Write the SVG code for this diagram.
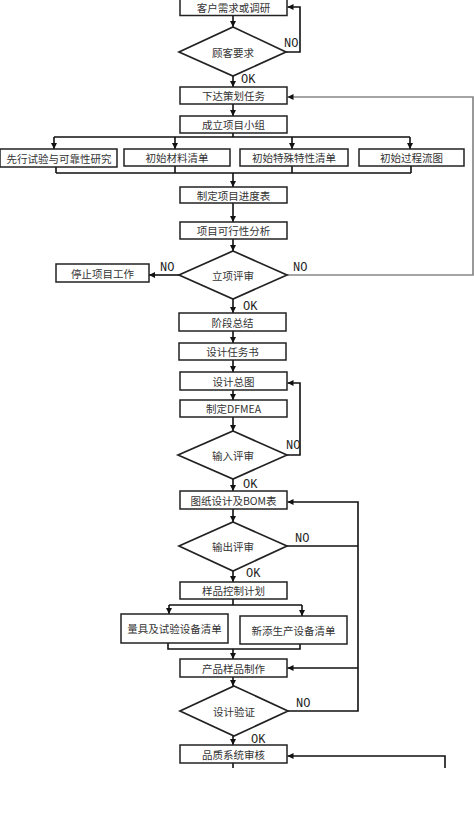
<svg xmlns="http://www.w3.org/2000/svg" width="474" height="815" viewBox="0 0 474 815">
<style>
.box{fill:#fff;stroke:#222;stroke-width:1.5}
.dia{fill:#fff;stroke:#222;stroke-width:1.7}
.t{font-family:"Noto Sans CJK SC","Noto Sans",sans-serif;font-size:10.5px;fill:#333;text-anchor:middle;dominant-baseline:central}
.lb{font-family:"Liberation Mono","DejaVu Sans Mono",monospace;font-size:12px;fill:#222}
.c{fill:none;stroke:#111;stroke-width:1.6}
.g{fill:none;stroke:#888;stroke-width:1.7}
</style>
<defs>
<marker id="ah" viewBox="0 0 10 10" refX="10" refY="5" markerWidth="6" markerHeight="6" markerUnits="userSpaceOnUse" orient="auto">
<path d="M0,0 L10,5 L0,10 Z" fill="#111"/>
</marker>
</defs>
<rect width="474" height="815" fill="#fff"/>
<g id="connectors">
<path class="c" d="M233,15.5 V27" marker-end="url(#ah)"/>
<path class="c" d="M286,52 H300 V7 H287.5" marker-end="url(#ah)"/>
<path class="c" d="M233,76 V87" marker-end="url(#ah)"/>
<path class="c" d="M233,104 V116" marker-end="url(#ah)"/>
<path class="c" d="M233,133 V137 M54,137 H410"/>
<path class="c" d="M54,137 V149" marker-end="url(#ah)"/>
<path class="c" d="M175,137 V149" marker-end="url(#ah)"/>
<path class="c" d="M292,137 V149" marker-end="url(#ah)"/>
<path class="c" d="M410,137 V149" marker-end="url(#ah)"/>
<path class="c" d="M56,167 V173 M175,166 V173 M292,166 V173 M411,166 V173 M56,173 H411"/>
<path class="c" d="M233,173 V187" marker-end="url(#ah)"/>
<path class="c" d="M233,203 V222" marker-end="url(#ah)"/>
<path class="c" d="M233,239 V251" marker-end="url(#ah)"/>
<path class="c" d="M179,275 H149" marker-end="url(#ah)"/>
<path class="g" d="M287,275 H473 V97 H287.5" marker-end="url(#ah)"/>
<path class="c" d="M233,299 V313" marker-end="url(#ah)"/>
<path class="c" d="M233,331 V343" marker-end="url(#ah)"/>
<path class="c" d="M233,360 V372" marker-end="url(#ah)"/>
<path class="c" d="M233,390 V400" marker-end="url(#ah)"/>
<path class="c" d="M233,417 V431" marker-end="url(#ah)"/>
<path class="c" d="M287,455 H300 V383 H287.5" marker-end="url(#ah)"/>
<path class="c" d="M233,479 V491" marker-end="url(#ah)"/>
<path class="c" d="M233,509 V522" marker-end="url(#ah)"/>
<path class="c" d="M287,546 H358"/>
<path class="c" d="M233,571 V582" marker-end="url(#ah)"/>
<path class="c" d="M233,599 V605 M169,605 H302"/>
<path class="c" d="M169,605 V614" marker-end="url(#ah)"/>
<path class="c" d="M302,605 V616" marker-end="url(#ah)"/>
<path class="c" d="M168,643 V649 H300 V644"/>
<path class="c" d="M233,649 V659" marker-end="url(#ah)"/>
<path class="c" d="M233,677 V686" marker-end="url(#ah)"/>
<path class="c" d="M288,711 H358 V502 H287.5" marker-end="url(#ah)"/>
<path class="c" d="M358,668 H287.5" marker-end="url(#ah)"/>
<path class="c" d="M233,736 V745" marker-end="url(#ah)"/>
<path class="c" d="M233,763 V768"/>
<path class="c" d="M445,768 V756 H287.5" marker-end="url(#ah)"/>
</g>
<g id="labels">
<text class="lb" x="284" y="47">NO</text>
<text class="lb" x="241" y="83">OK</text>
<text class="lb" x="160" y="271">NO</text>
<text class="lb" x="293" y="271">NO</text>
<text class="lb" x="243" y="310">OK</text>
<text class="lb" x="286" y="449">NO</text>
<text class="lb" x="243" y="488">OK</text>
<text class="lb" x="295" y="542">NO</text>
<text class="lb" x="246" y="577">OK</text>
<text class="lb" x="296" y="707">NO</text>
<text class="lb" x="251" y="743">OK</text>
</g>
<g id="n1"><rect class="box" x="180" y="-1" width="107" height="16.5"/><text class="t" x="233.5" y="7.5">客户需求或调研</text></g>
<g id="n2"><polygon class="dia" points="233,27 286,52 233,76 179,52"/><text class="t" x="233" y="52">顾客要求</text></g>
<g id="n3"><rect class="box" x="180" y="87" width="107" height="17"/><text class="t" x="233.5" y="95.5">下达策划任务</text></g>
<g id="n4"><rect class="box" x="180" y="116" width="107" height="17"/><text class="t" x="233.5" y="124.5">成立项目小组</text></g>
<g id="n5"><rect class="box" x="0" y="149" width="117" height="18"/><text class="t" x="59" y="158">先行试验与可靠性研究</text></g>
<g id="n6"><rect class="box" x="124" y="149" width="106" height="17"/><text class="t" x="177" y="157.5">初始材料清单</text></g>
<g id="n7"><rect class="box" x="240" y="149" width="108" height="17"/><text class="t" x="294" y="157.5">初始特殊特性清单</text></g>
<g id="n8"><rect class="box" x="359" y="149" width="105" height="17"/><text class="t" x="411.5" y="157.5">初始过程流图</text></g>
<g id="n9"><rect class="box" x="180" y="187" width="107" height="16"/><text class="t" x="233.5" y="195">制定项目进度表</text></g>
<g id="n10"><rect class="box" x="180" y="222" width="107" height="17"/><text class="t" x="233.5" y="230.5">项目可行性分析</text></g>
<g id="n11"><polygon class="dia" points="233,251 287,275 233,299 179,275"/><text class="t" x="233" y="275">立项评审</text></g>
<g id="n12"><rect class="box" x="56" y="264" width="93" height="18"/><text class="t" x="102.5" y="273">停止项目工作</text></g>
<g id="n13"><rect class="box" x="179" y="313" width="107" height="18"/><text class="t" x="232.5" y="322">阶段总结</text></g>
<g id="n14"><rect class="box" x="179" y="343" width="107" height="17"/><text class="t" x="232.5" y="351.5">设计任务书</text></g>
<g id="n15"><rect class="box" x="180" y="372" width="107" height="18"/><text class="t" x="233.5" y="381">设计总图</text></g>
<g id="n16"><rect class="box" x="180" y="400" width="107" height="17"/><text class="t" x="233.5" y="408.5">制定DFMEA</text></g>
<g id="n17"><polygon class="dia" points="233,431 287,455 233,479 178,455"/><text class="t" x="233" y="455">输入评审</text></g>
<g id="n18"><rect class="box" x="180" y="491" width="107" height="18"/><text class="t" x="233.5" y="500">图纸设计及BOM表</text></g>
<g id="n19"><polygon class="dia" points="233,522 287,546 233,571 179,546"/><text class="t" x="233" y="546">输出评审</text></g>
<g id="n20"><rect class="box" x="180" y="582" width="107" height="17"/><text class="t" x="233.5" y="590.5">样品控制计划</text></g>
<g id="n21"><rect class="box" x="121" y="614" width="107" height="29"/><text class="t" x="174.5" y="628.5">量具及试验设备清单</text></g>
<g id="n22"><rect class="box" x="240" y="616" width="107" height="28"/><text class="t" x="293.5" y="630">新添生产设备清单</text></g>
<g id="n23"><rect class="box" x="180" y="659" width="107" height="18"/><text class="t" x="233.5" y="668">产品样品制作</text></g>
<g id="n24"><polygon class="dia" points="234,686 288,711 234,736 180,711"/><text class="t" x="234" y="711">设计验证</text></g>
<g id="n25"><rect class="box" x="180" y="745" width="107" height="18"/><text class="t" x="233.5" y="754">品质系统审核</text></g>
</svg>
